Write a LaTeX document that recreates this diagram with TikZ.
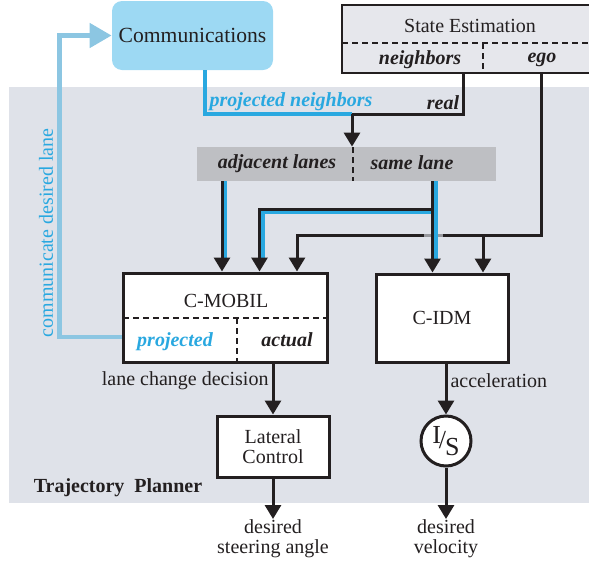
\documentclass[tikz,border=0pt]{standalone}
\usepackage{fontspec}
\setmainfont{Liberation Serif}
\usetikzlibrary{arrows.meta,positioning}
\definecolor{ink}{RGB}{35,31,32}
\definecolor{panelgray}{RGB}{223,226,233}
\definecolor{stategray}{RGB}{230,231,236}
\definecolor{lanegray}{RGB}{190,191,195}
\definecolor{commblue}{RGB}{157,217,243}
\definecolor{skyblue}{RGB}{41,168,224}
\definecolor{paleblue}{RGB}{140,198,226}
\definecolor{bridgegray}{RGB}{150,151,156}

\begin{document}
\begin{tikzpicture}[x=0.5pt,y=-0.5pt,>={Triangle[width=8pt,length=7pt]},
    every node/.style={text=ink,font=\fontsize{10}{10}\selectfont},
    box/.style={draw=ink,line width=1.5pt,fill=white},
    commbox/.style={fill=commblue,rounded corners=5pt,minimum width=80.5pt,minimum height=34.5pt,
                    font=\fontsize{10.8}{13}\selectfont},
    statebox/.style={draw=ink,fill=stategray,line width=1.25pt,minimum width=128pt,minimum height=34pt},
    lanebar/.style={fill=lanegray,minimum width=149.5pt,minimum height=17pt},
    lbl/.style={font=\fontsize{10}{10}\selectfont\bfseries\itshape},
    outtxt/.style={anchor=north,align=center,inner sep=0pt},
    flow/.style={draw=ink,line width=1.5pt},
    bflow/.style={draw=skyblue,line width=1.6pt},
    halt/.style={shorten >=7pt},
    cflow/.style={draw=paleblue,line width=2.4pt,-{Triangle[width=12pt,length=11pt]}},
    divider/.style={draw=ink,line width=1pt,dash pattern=on 3pt off 2pt},
    bridge/.style={draw=bridgegray,line width=1.5pt}]

  \useasboundingbox (0,0) rectangle (589,563);
  \fill[panelgray] (9,87) rectangle (600,503);

  % blocks
  \node[commbox] (comm) at (192.5,35.5) {Communications};
  \node[statebox] (state) at (470,39) {};
  \node (stitle) at (470,26) {State Estimation};
  \node[lbl] (nbrs) at (420,60) {neighbors};
  \node[lbl] (ego) at (542,60) {ego};
  \node[lanebar] (lanes) at (346.5,164) {};
  \node[lbl] (adj) at (277,164) {adjacent lanes};
  \node[lbl] (same) at (412,163) {same lane};
  \node[box,minimum width=102pt,minimum height=44.5pt] (mobil) at (225,317.5) {};
  \node (mtitle) at (226,301) {C-MOBIL};
  \node[lbl,text=skyblue] (proj) at (175,342) {projected};
  \node[lbl] (act) at (287,340) {actual};
  \node[box,minimum width=66pt,minimum height=44pt] (idm) at (442,318) {C-IDM};
  \node[box,minimum width=56pt,minimum height=30.5pt,align=center] (lat) at (273,446.5) {Lateral\\Control};
  \node[box,circle,minimum size=25pt,inner sep=0pt,font=\fontsize{13}{13}\selectfont] (integ) at (446,441)
       {\raisebox{2.5pt}{I}\kern-1pt/\kern-0.5pt\raisebox{-3.5pt}{S}};
  \node[outtxt] (steer) at (273,519) {desired\\steering angle};
  \node[outtxt] (vel) at (446,519) {desired\\velocity};
  \node[font=\fontsize{10}{10}\selectfont\bfseries] (tp) at (118,488) {Trajectory\ \ Planner};
  \node[rotate=90,text=skyblue] (cdl) at (46,233) {communicate desired lane};
  \node[lbl,text=skyblue] (pn) at (291,102) {projected neighbors};
  \node[lbl] (real) at (443,102.5) {real};

  % dashed separators
  \draw[divider] (342,43) -- (598,43);
  \draw[divider] (483,43) -- (483,73);
  \draw[divider] (353,147) -- (353,181);
  \draw[divider] (123,318) -- (327,318);
  \draw[divider] (237,318) -- (237,362);

  \coordinate (merge) at (352,114);
  \coordinate (egoturn) at (541,235);
  \coordinate (split) at (432.5,209);
  \coordinate (bsplit) at (436,212.5);
  \coordinate (cturn) at (59.5,337);

  % neighbors into lanes
  \draw[bflow] (comm.south -| 205,0) |- (merge);
  \draw[flow] (state.south -| 463,0) |- (merge);
  \draw[flow,->] (merge) -- (lanes.north -| merge);

  % adjacent lanes
  \draw[bflow,halt] (lanes.south -| 225,0) -- (mobil.north -| 225,0);
  \draw[flow,->] (lanes.south -| 222,0) -- (mobil.north -| 222,0);

  % ego
  \draw[flow,->] (state.south -| egoturn) -- (egoturn) -| (mobil.north -| 297,0);
  \draw[flow,->] (egoturn -| 483,0) -- (idm.north -| 483,0);
  \draw[bridge] (egoturn -| 424,0) -- (egoturn -| 443,0);

  % same lane
  \draw[bflow,halt] (lanes.south -| bsplit) -- (idm.north -| bsplit);
  \draw[bflow,halt] (bsplit) -| (mobil.north -| 263,0);
  \draw[flow,->] (lanes.south -| split) -- (idm.north -| split);
  \draw[flow,->] (split) -| (mobil.north -| 259.5,0);

  % outputs
  \draw[flow,->] (lat.north |- mobil.south) -- node[pos=0.33,left,inner sep=1.5pt] {lane change decision} (lat.north);
  \draw[flow,->] (integ.north |- idm.south) -- node[pos=0.33,right,inner sep=1.5pt] {acceleration} (integ.north);
  \draw[flow,->] (lat.south) -- (steer.north);
  \draw[flow,->] (integ.south) -- (vel.north);

  % back to communications
  \draw[cflow] (mobil.west |- cturn) -- (cturn) |- (comm.west);
\end{tikzpicture}
\end{document}
